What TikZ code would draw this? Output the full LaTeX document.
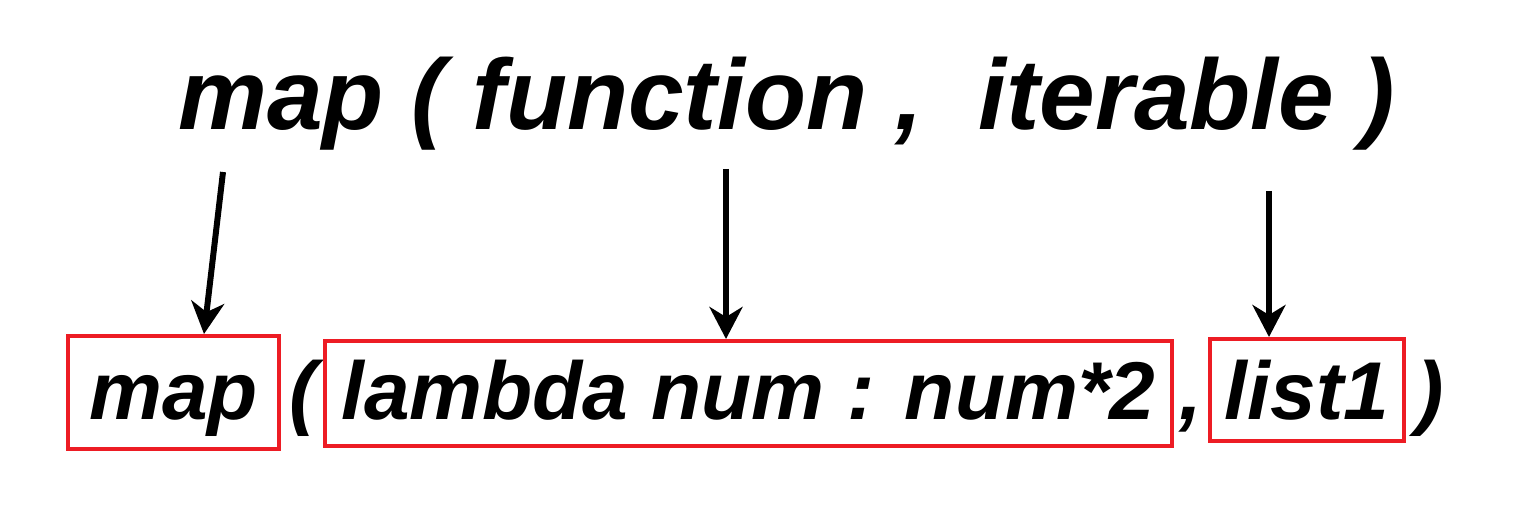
\documentclass[tikz,border=0pt]{standalone}
\usepackage{fontspec}
\setmainfont{Liberation Sans}
\usetikzlibrary{arrows.meta}
\definecolor{boxred}{RGB}{237,28,36}
\begin{document}
\begin{tikzpicture}[x=0.5pt,y=-0.5pt,
  redbox/.style={draw=boxred, line width=2pt, inner sep=0pt, anchor=base,
    font=\fontsize{41pt}{46pt}\selectfont\bfseries\itshape},
  plain/.style={inner sep=0pt, anchor=base,
    font=\fontsize{41pt}{46pt}\selectfont\bfseries\itshape},
  arr/.style={line width=3pt, -{Stealth[length=16pt,width=16.5pt,inset=5pt]}}]
  \useasboundingbox (0,0) rectangle (1525,522);

  \node[inner sep=0pt, anchor=base west,
    font=\fontsize{50pt}{56pt}\selectfont\bfseries\itshape] (sig) at (178,130)
    {map ( function ,\ \ iterable )};

  \node[redbox, minimum width=105.5pt, text height=42pt, text depth=14.5pt]
    (mapbox) at (173.5,420) {map};
  \node[plain] (lpar) at (303,420) {(};
  \node[redbox, minimum width=423.5pt, text height=39.5pt, text depth=13pt]
    (fnbox) at (748.5,420) {lambda num : num*2};
  \node[plain] (comma) at (1191,420) {,};
  \node[redbox, minimum width=97pt, text height=40.5pt, text depth=10.5pt]
    (listbox) at (1307,420) {list1};
  \node[plain] (rpar) at (1430,420) {)};

  \coordinate (a1) at (223,172);
  \coordinate (a2) at (726,169);
  \coordinate (a3) at (1269,191);

  \draw[arr] (a1) -- ([xshift=15.25pt]mapbox.north);
  \draw[arr] (a2) -- (a2 |- fnbox.north);
  \draw[arr] (a3) -- (a3 |- listbox.north);
\end{tikzpicture}
\end{document}
